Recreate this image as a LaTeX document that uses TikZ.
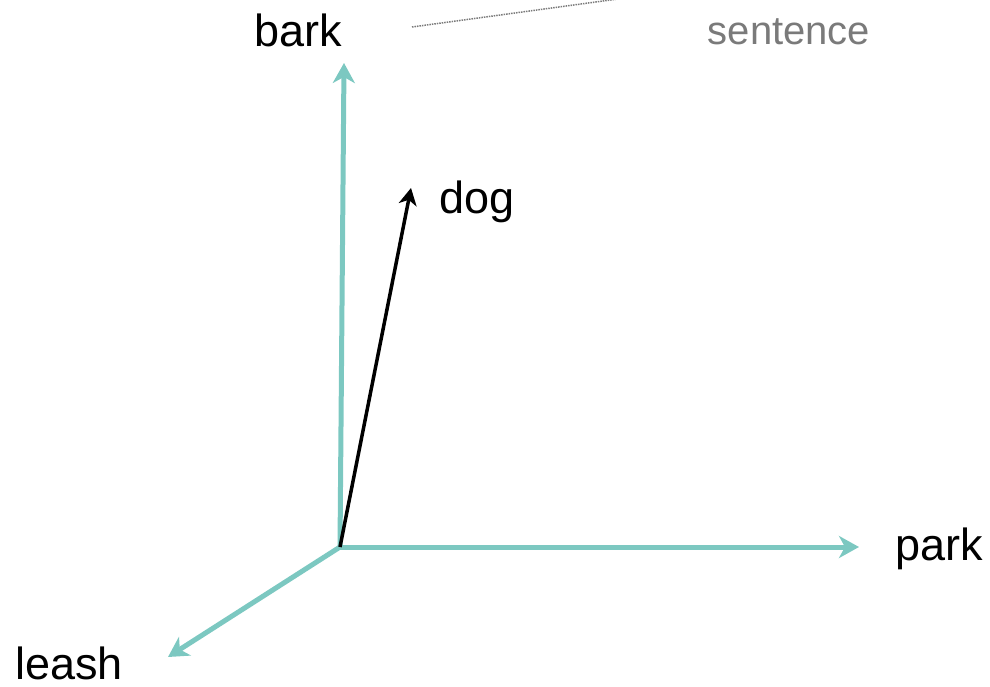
\documentclass[tikz,border=0pt]{standalone}
\usepackage{fontspec}
\setmainfont{Liberation Sans}
\usetikzlibrary{arrows.meta}
\definecolor{teal1}{HTML}{7CC8C1}
\definecolor{greytxt}{HTML}{7A7A7A}
\tikzset{
  axis/.style={draw=teal1, line width=5pt, -{Stealth[length=20pt,width=22pt,inset=6pt]}},
  vec/.style={draw=black, line width=3.5pt, -{Stealth[length=17pt,width=18pt,inset=5pt]}},
  lbl/.style={font=\fontsize{45}{54}\selectfont, anchor=base, inner sep=0pt},
}
\begin{document}
\begin{tikzpicture}[x=1pt,y=-1pt]
\useasboundingbox (0,0) rectangle (990,687);
\coordinate (o) at (340,547);
\coordinate (barktip) at (344,63);
\coordinate (parktip) at (859,547);
\coordinate (leashtip) at (168,657);
\coordinate (dogtip) at (411,188);
\node[lbl] (bark) at (298,47) {bark};
\node[lbl, text=greytxt, font=\fontsize{40}{48}\selectfont] (sentence) at (789,45) {sentence};
\node[lbl] (dog) at (477,213) {dog};
\node[lbl] (park) at (939,560) {park};
\node[lbl] (leash) at (69,679) {leash};
\coordinate (dotend) at (625,-2);
\coordinate (dotstart) at (412,27);
\draw[greytxt, line width=1.5pt, dash pattern=on 1.5pt off 1pt] (dotstart) -- (dotend);
\draw[axis] (o) -- (barktip);
\draw[axis] (o) -- (parktip);
\draw[axis] (o) -- (leashtip);
\draw[vec] (o) -- (dogtip);
\end{tikzpicture}
\end{document}
